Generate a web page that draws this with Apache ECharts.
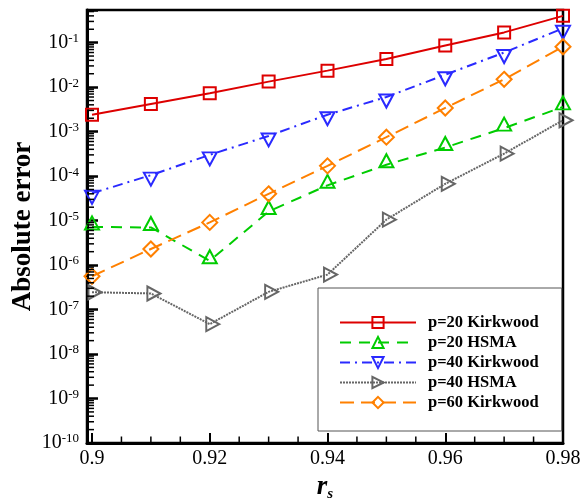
<!DOCTYPE html>
<html>
<head>
<meta charset="utf-8">
<script src="https://cdn.jsdelivr.net/npm/echarts@6/dist/echarts.min.js"></script>
<style>
html,body{margin:0;padding:0;background:#fff;}
#chart{width:582px;height:500px;}
</style>
</head>
<body>
<div id="chart"></div>
<script>
// ---- data ----
const rsValues = [0.90, 0.91, 0.92, 0.93, 0.94, 0.95, 0.96, 0.97, 0.98];
const p20Kirkwood = [2.4e-3, 4.2e-3, 7.3e-3, 1.33e-2, 2.35e-2, 4.3e-2, 8.6e-2, 1.7e-1, 4.0e-1];
const p20HSMA     = [7.2e-6, 7.0e-6, 1.25e-6, 1.6e-5, 6.2e-5, 1.8e-4, 4.4e-4, 1.2e-3, 3.6e-3];
const p40Kirkwood = [4.1e-5, 1.05e-4, 3.0e-4, 8.0e-4, 2.4e-3, 6.0e-3, 1.9e-2, 6.0e-2, 2.1e-1];
const p40HSMA     = [2.45e-7, 2.3e-7, 4.7e-8, 2.5e-7, 6.1e-7, 1.05e-5, 6.7e-5, 3.2e-4, 1.8e-3];
const p60Kirkwood = [5.6e-7, 2.3e-6, 9.1e-6, 4.0e-5, 1.7e-4, 7.5e-4, 3.4e-3, 1.5e-2, 8.1e-2];

const seriesNames = ['p=20 Kirkwood', 'p=20 HSMA', 'p=40 Kirkwood', 'p=40 HSMA', 'p=60 Kirkwood'];
const xTickLabels = ['0.9', '0.92', '0.94', '0.96', '0.98'];
const yTickExponents = [-10, -9, -8, -7, -6, -5, -4, -3, -2, -1];

// axis ranges
const xMin = 0.89915, xMax = 0.98;
const yMin = 1e-10, yMax = 0.542;

// minor tick positions (axis decoration)
const xMinorTicks = [];
for (let i = 1; i <= 16; i++) { if (i % 4 !== 0) xMinorTicks.push(+(0.9 + 0.005 * i).toFixed(4)); }
const yMinorTicks = [];
for (const e of yTickExponents) {
  for (let m = 2; m <= 9; m++) { const v = m * Math.pow(10, e); if (v <= yMax) yMinorTicks.push(v); }
}

const serif = 'Liberation Serif';

function pairs(arr) { return rsValues.map((x, i) => [x, arr[i]]); }

function lineSeries(name, data, color, type, symbol, size, rotate, offset) {
  return {
    name, type: 'line', data: pairs(data),
    symbol, symbolSize: size, symbolRotate: rotate, symbolOffset: offset,
    showSymbol: true, clip: false, z: 3,
    lineStyle: { color, width: 2, type },
    itemStyle: { color: 'rgba(0,0,0,0)', borderColor: color, borderWidth: 2 },
    emphasis: { disabled: true }
  };
}

function tickSeries(name, data, size, offset) {
  return {
    name, type: 'line', data, z: 10, clip: false, silent: true,
    showSymbol: true, showAllSymbol: true,
    symbol: 'rect', symbolSize: size, symbolOffset: offset,
    lineStyle: { width: 0, opacity: 0 },
    itemStyle: { color: '#000', borderWidth: 0 },
    emphasis: { disabled: true }
  };
}

const chart = echarts.init(document.getElementById('chart'));

const option = {
  animation: false,
  grid: { left: 87, right: 19, top: 10, bottom: 57, show: true, borderColor: '#000', borderWidth: 2.5, outerBoundsMode: 'none', containLabel: false },
  xAxis: {
    type: 'value', min: xMin, max: xMax,
    splitLine: { show: false },
    axisLine: { lineStyle: { color: '#000', width: 3 } },
    axisTick: { inside: true, length: 10, lineStyle: { color: '#000', width: 2 } },
    axisLabel: {
      margin: 6, color: '#000', fontFamily: serif, fontSize: 20,
      formatter: function (v) { const s = (+v.toFixed(4)).toString(); return xTickLabels.indexOf(s) >= 0 ? s : ''; }
    },
    name: '{r|r}{s|s}', nameLocation: 'middle', nameGap: 26,
    nameTextStyle: {
      rich: {
        r: { fontFamily: serif, fontSize: 27, fontStyle: 'italic', fontWeight: 'bold', color: '#000' },
        s: { fontFamily: serif, fontSize: 15, fontStyle: 'italic', fontWeight: 'bold', color: '#000', padding: [14, 0, 0, 0] }
      }
    }
  },
  yAxis: {
    type: 'log', min: yMin, max: yMax,
    splitLine: { show: false },
    axisLine: { lineStyle: { color: '#000', width: 3 } },
    axisTick: { inside: true, length: 11, lineStyle: { color: '#000', width: 2.5 } },
    axisLabel: {
      margin: 8, color: '#000', fontFamily: serif, fontSize: 20,
      formatter: function (v) {
        const e = Math.round(Math.log10(v));
        if (Math.abs(Math.log10(v) - e) > 1e-6 || yTickExponents.indexOf(e) < 0) return '';
        return '{b|10}{s|' + e + '}';
      },
      rich: {
        b: { fontFamily: serif, fontSize: 20, color: '#000' },
        s: { fontFamily: serif, fontSize: 13, color: '#000', padding: [0, 0, 8, 0] }
      }
    },
    name: 'Absolute error', nameLocation: 'middle', nameRotate: 90, nameGap: 50, nameMoveOverlap: false,
    nameTextStyle: { fontFamily: serif, fontSize: 27, fontWeight: 'bold', color: '#000' }
  },
  legend: {
    data: seriesNames,
    orient: 'vertical', left: 318, top: 288,
    padding: [26, 23, 20, 21],
    backgroundColor: '#fff', borderColor: '#555', borderWidth: 1,
    itemWidth: 76, itemHeight: 14, itemGap: 3,
    textStyle: { fontFamily: serif, fontSize: 16.5, fontWeight: 'bold', color: '#000', padding: [0, 0, 0, 7] },
    selectedMode: false
  },
  series: [
    lineSeries(seriesNames[0], p20Kirkwood, '#dd0000', 'solid', 'rect', 12, 0, [0, 0]),
    lineSeries(seriesNames[1], p20HSMA, '#00cc00', [11, 8], 'triangle', [14, 13], 0, [0, -4]),
    lineSeries(seriesNames[2], p40Kirkwood, '#2a2aff', [10, 5, 2, 5], 'triangle', [14, 13], 180, [0, 4]),
    lineSeries(seriesNames[3], p40HSMA, '#666666', [2, 1], 'triangle', [14, 13], -90, [3, 0]),
    lineSeries(seriesNames[4], p60Kirkwood, '#ff8000', [14, 7], 'diamond', [15, 15], 0, [0, 0]),
    tickSeries('yMinorTicks', yMinorTicks.map(v => [xMin, v]), [7, 1.5], [3.5, 0]),
    tickSeries('xMinorTicks', xMinorTicks.map(v => [v, yMin]), [1.5, 6.5], [0, -3.25])
  ]
};
chart.setOption(option);
</script>
</body>
</html>
